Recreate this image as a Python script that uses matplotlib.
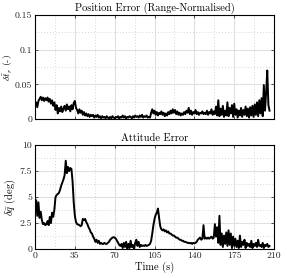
import numpy as np
import matplotlib
matplotlib.use("Agg")
import matplotlib.pyplot as plt
from matplotlib.ticker import MultipleLocator, FixedLocator, FixedFormatter

plt.rcParams['font.family'] = 'serif'
plt.rcParams['font.serif'] = ['cmr10', 'DejaVu Serif']
plt.rcParams['mathtext.fontset'] = 'cm'
plt.rcParams['axes.unicode_minus'] = False

# sample times (s), one sample per second
t = np.arange(0, 207)

# range-normalised position error (-)
pos_err = [
    0.019, 0.024, 0.017, 0.026, 0.029, 0.032, 0.027, 0.031, 0.026, 0.030,
    0.027, 0.031, 0.025, 0.029, 0.022, 0.027, 0.019, 0.024, 0.013, 0.020,
    0.008, 0.016, 0.011, 0.018, 0.010, 0.015, 0.019, 0.012, 0.021, 0.014,
    0.018, 0.011, 0.020, 0.014, 0.023, 0.026, 0.016, 0.013, 0.008, 0.014,
    0.009, 0.012, 0.006, 0.010, 0.005, 0.008, 0.004, 0.007, 0.003, 0.006,
    0.004, 0.006, 0.002, 0.005, 0.003, 0.006, 0.002, 0.004, 0.001, 0.004,
    0.002, 0.003, 0.001, 0.004, 0.002, 0.001, 0.003, 0.001, 0.004, 0.002,
    0.001, 0.003, 0.002, 0.004, 0.001, 0.003, 0.002, 0.005, 0.002, 0.004,
    0.001, 0.003, 0.002, 0.004, 0.003, 0.001, 0.004, 0.002, 0.005, 0.003,
    0.004, 0.002, 0.005, 0.003, 0.006, 0.002, 0.004, 0.003, 0.005, 0.002,
    0.003, 0.002, 0.009, 0.014, 0.008, 0.012, 0.006, 0.010, 0.005, 0.009,
    0.007, 0.011, 0.006, 0.009, 0.004, 0.008, 0.005, 0.010, 0.007, 0.012,
    0.008, 0.014, 0.009, 0.013, 0.007, 0.011, 0.006, 0.009, 0.005, 0.008,
    0.006, 0.010, 0.007, 0.012, 0.009, 0.016, 0.007, 0.012, 0.006, 0.010,
    0.008, 0.013, 0.007, 0.010, 0.006, 0.009, 0.008, 0.011, 0.007, 0.009,
    0.007, 0.012, 0.006, 0.010, 0.008, 0.014, 0.006, 0.011, 0.007, 0.018,
    0.005, 0.027, 0.004, 0.015, 0.006, 0.019, 0.003, 0.012, 0.005, 0.024,
    0.004, 0.016, 0.008, 0.020, 0.003, 0.022, 0.006, 0.014, 0.002, 0.012,
    0.005, 0.016, 0.003, 0.013, 0.006, 0.018, 0.004, 0.015, 0.002, 0.017,
    0.005, 0.019, 0.003, 0.021, 0.006, 0.024, 0.004, 0.027, 0.008, 0.030,
    0.004, 0.049, 0.012, 0.038, 0.070, 0.020, 0.012,
]

# attitude error (deg)
att_err = [
    3.7, 4.7, 3.2, 4.5, 3.0, 3.6, 2.8, 2.4, 2.5, 2.3,
    2.4, 2.7, 2.3, 3.1, 2.5, 3.5, 3.1, 3.8, 5.0, 5.2,
    5.3, 5.4, 5.7, 6.1, 6.4, 6.7, 7.1, 8.5, 7.3, 7.9,
    7.5, 7.8, 7.7, 6.5, 4.5, 3.2, 2.6, 2.4, 2.35, 2.3,
    2.2, 2.3, 2.9, 2.8, 2.9, 2.6, 2.4, 2.1, 1.9, 1.6,
    1.5, 1.2, 1.0, 0.7, 0.9, 0.6, 0.8, 0.5, 0.6, 0.5,
    0.5, 0.6, 0.5, 0.5, 0.6, 0.7, 0.9, 1.0, 1.1, 1.15,
    1.1, 1.0, 0.8, 0.6, 0.4, 0.3, 0.5, 0.1, 0.6, 0.2,
    0.7, 0.0, 0.5, 0.1, 0.8, 0.2, 0.4, 0.0, 0.6, 0.9,
    0.3, 0.7, 0.2, 0.4, 0.3, 0.35, 0.3, 0.4, 0.3, 0.35,
    0.4, 0.5, 0.8, 1.5, 2.3, 2.9, 3.3, 3.5, 3.9, 3.0,
    2.2, 1.9, 1.8, 1.9, 1.7, 1.8, 1.6, 1.7, 1.5, 1.5,
    1.4, 1.3, 1.3, 1.2, 1.1, 1.1, 1.0, 0.9, 0.9, 0.8,
    0.8, 0.7, 0.7, 0.65, 0.6, 0.6, 0.55, 0.6, 0.5, 0.6,
    0.55, 0.6, 0.7, 0.9, 1.0, 1.1, 0.9, 1.0, 2.3, 1.0,
    1.1, 1.0, 1.1, 1.0, 1.1, 1.2, 1.0, 1.1, 2.4, 1.2,
    2.1, 0.6, 3.2, 0.4, 1.5, 0.2, 1.3, 0.5, 1.6, 0.3,
    1.8, 0.4, 1.5, 0.1, 1.2, 0.3, 1.0, 0.2, 0.8, 0.1,
    1.3, 0.2, 0.7, 0.4, 0.9, 0.1, 0.6, 0.3, 0.5, 0.2,
    0.8, 0.1, 0.5, 0.3, 0.6, 0.2, 0.9, 0.3, 0.4, 0.2,
    0.6, 0.1, 0.4, 0.3, 0.5, 0.2, 0.3,
]

x_ticks = [0, 35, 70, 105, 140, 175, 210]
x_labels = ["0", "35", "70", "105", "140", "175", "210"]
pos_ticks = [0, 0.05, 0.1, 0.15]
pos_labels = ["0", "0.05", "0.1", "0.15"]
att_ticks = [0, 2.5, 5, 7.5, 10]
att_labels = ["0", "2.5", "5", "7.5", "10"]

fig = plt.figure(figsize=(2.87, 2.78), dpi=100)
ax1 = fig.add_axes([0.122, 0.572, 0.833, 0.374])
ax2 = fig.add_axes([0.122, 0.104, 0.833, 0.374])


def style(ax, yticks, ylabels, ystep):
    ax.set_xlim(0, 210)
    ax.xaxis.set_major_locator(FixedLocator(x_ticks))
    ax.xaxis.set_minor_locator(MultipleLocator(17.5))
    ax.yaxis.set_major_locator(FixedLocator(yticks))
    ax.yaxis.set_major_formatter(FixedFormatter(ylabels))
    ax.yaxis.set_minor_locator(MultipleLocator(ystep))
    ax.set_ylim(yticks[0], yticks[-1])
    ax.grid(which="major", color="#e0e0e0", lw=0.8, ls="-")
    ax.grid(which="minor", color="#c8c8c8", lw=0.6, ls=(0, (1, 2.5)))
    ax.set_axisbelow(True)
    ax.tick_params(which="both", direction="in", top=True, right=True,
                   labelsize=7, pad=2, width=0.6, color="#333333",
                   labelcolor="#222222")
    ax.tick_params(which="major", length=2.5)
    ax.tick_params(which="minor", length=0)
    for s in ax.spines.values():
        s.set_linewidth(0.8)


ax1.plot(t, pos_err, color="black", lw=1.4)
style(ax1, pos_ticks, pos_labels, 0.025)
ax1.tick_params(labelbottom=False)
ax1.set_title("Position Error (Range-Normalised)", fontsize=7.5, pad=3)
ax1.set_ylabel(r"$\delta\tilde{t}_r$ (-)", fontsize=7)
ax1.yaxis.set_label_coords(-0.082, 0.5)

ax2.plot(t, att_err, color="black", lw=1.4)
style(ax2, att_ticks, att_labels, 1.25)
ax2.xaxis.set_major_formatter(FixedFormatter(x_labels))
ax2.set_title("Attitude Error", fontsize=7.5, pad=3)
ax2.set_ylabel(r"$\delta\bar{q}$ (deg)", fontsize=7.5)
ax2.yaxis.set_label_coords(-0.072, 0.5)
ax2.set_xlabel("Time (s)", fontsize=7.5, labelpad=1)

fig.savefig("out.png", dpi=100)
